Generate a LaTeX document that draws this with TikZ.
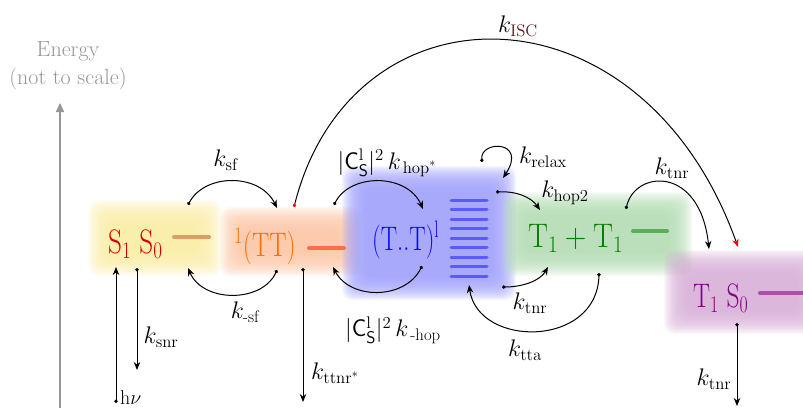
\RequirePackage{fix-cm}
\documentclass[tikz,border=0pt]{standalone}
\usepackage{amsmath}
\usepackage{graphicx}
\usetikzlibrary{arrows.meta}
\definecolor{egray}{RGB}{150,150,150}
\definecolor{sred}{RGB}{210,0,0}
\definecolor{torange}{RGB}{255,110,0}
\definecolor{tblue}{RGB}{10,10,245}
\definecolor{tgreen}{RGB}{0,128,0}
\definecolor{tpurple}{RGB}{128,0,128}
\definecolor{gyellow}{RGB}{250,236,165}
\definecolor{gorange}{RGB}{252,198,165}
\definecolor{gblue}{RGB}{160,160,252}
\definecolor{ggreen}{RGB}{180,220,180}
\definecolor{gpurple}{RGB}{216,176,216}
\definecolor{ltan}{RGB}{215,160,100}
\definecolor{lorange}{RGB}{255,110,70}
\definecolor{lblue}{RGB}{90,90,255}
\definecolor{lgreen}{RGB}{90,175,90}
\definecolor{lpurple}{RGB}{170,80,170}
\definecolor{iscred}{RGB}{100,20,20}
\newcommand\glowbox[5]{%
  \foreach \i in {0,...,21}{%
    \fill[#1, opacity=0.1, rounded corners=10pt] (#2+\i*1.1, #3+\i*1.1) rectangle (#4-\i*1.1, #5-\i*1.1);
  }}
\tikzset{
  conn/.style={line width=1pt, {Circle[length=3.4pt]}-{Stealth[length=8pt,width=6.5pt]}},
  lbl/.style={font=\fontsize{24}{28}\selectfont, inner sep=0pt},
  statetxt/.style={inner sep=0pt, anchor=base west},
  lev/.style={line width=4pt, line cap=round},
}
\newcommand\stfont{\fontsize{34}{40}\selectfont}
\begin{document}
\begin{tikzpicture}[x=1pt,y=-1pt]
\useasboundingbox (0,0) rectangle (803,408);
% glows
\glowbox{gyellow}{88}{200}{222}{276}
\glowbox{gorange}{220}{207}{362}{276}
\glowbox{gblue}{342}{166}{516}{300}
\glowbox{ggreen}{502}{192}{692}{276}
\glowbox{gpurple}{664}{250}{821}{334}
% energy axis
\node[align=center, text=egray, font=\fontsize{22}{28}\selectfont, inner sep=0pt] (energy) at (68,66) {Energy\\(not to scale)};
\coordinate (eb) at (60,408);
\coordinate (et) at (60,103);
\draw[egray, line width=1.6pt, -{Triangle[length=9pt,width=8pt]}] (eb) -- (et);
% states
\node[statetxt, text=sred] (s1s0) at (108,253) {\scalebox{0.8}[1]{\stfont S$_1$ S$_0$}};
\coordinate (l1a) at (174,237); \coordinate (l1b) at (209,237);
\draw[lev, ltan] (l1a) -- (l1b);
\node[statetxt, text=torange] (tt) at (234,256) {\scalebox{0.76}[1]{\stfont $^1$(TT)}};
\coordinate (l2a) at (309,248); \coordinate (l2b) at (344,248);
\draw[lev, lorange] (l2a) -- (l2b);
\node[statetxt, text=tblue] (tdt) at (372,250) {\scalebox{0.72}[1]{\stfont (T..T)$^{\mathrm{l}}$}};
\foreach \j in {0,...,8}{
  \coordinate (ba\j) at (451,200+\j*9.5); \coordinate (bb\j) at (487,200+\j*9.5);
  \draw[lblue, line width=3pt, line cap=round] (ba\j) -- (bb\j);
}
\node[statetxt, text=tgreen] (t1t1) at (528,247) {\scalebox{0.88}[1]{\stfont $\mathrm{T}_1+\mathrm{T}_1$}};
\coordinate (l3a) at (633,231); \coordinate (l3b) at (667,231);
\draw[lev, lgreen] (l3a) -- (l3b);
\node[statetxt, text=tpurple] (t1s0) at (693,307) {\scalebox{0.75}[1]{\stfont T$_1$ S$_0$}};
\coordinate (l4a) at (760,293); \coordinate (l4b) at (806,293);
\draw[lev, lpurple] (l4a) -- (l4b);
% connector end points
\coordinate (hvA) at (116,403); \coordinate (hvB) at (116,267);
\coordinate (snrA) at (137,268); \coordinate (snrB) at (137,370);
\coordinate (sfA) at (188,205); \coordinate (sfB) at (277,208);
\coordinate (msfA) at (277,270); \coordinate (msfB) at (188,268);
\coordinate (ttA) at (303,268); \coordinate (ttB) at (303,402);
\coordinate (iscA) at (294,207); \coordinate (iscB) at (738,247);
\coordinate (hopA) at (334,205); \coordinate (hopB) at (423,209);
\coordinate (mhopA) at (422,266); \coordinate (mhopB) at (333,267);
\coordinate (rxA) at (482,162); \coordinate (rxB) at (503,178);
\coordinate (h2A) at (496,192); \coordinate (h2B) at (540,210);
\coordinate (t1A) at (502,287); \coordinate (t1B) at (548,267);
\coordinate (ttaA) at (599,273); \coordinate (ttaB) at (469,285);
\coordinate (t2A) at (626,209); \coordinate (t2B) at (709,249);
\coordinate (t3A) at (737,323); \coordinate (t3B) at (737,406);
% connectors
\draw[conn] (hvA) -- (hvB);
\draw[conn] (snrA) -- (snrB);
\draw[conn] (sfA) .. controls (205,173) and (260,173) .. (sfB);
\draw[conn] (msfA) .. controls (262,303) and (203,303) .. (msfB);
\draw[conn] (ttA) -- (ttB);
\draw[line width=1pt, {Circle[length=3.4pt,color=red]}-{Stealth[length=8pt,width=6.5pt,color=red]}] (iscA) .. controls (352,-22) and (642,-22) .. (iscB);
\draw[conn] (hopA) .. controls (350,173) and (407,173) .. (hopB);
\draw[conn] (mhopA) .. controls (405,300) and (350,300) .. (mhopB);
\draw[conn] (rxA) .. controls (480,140) and (528,140) .. (rxB);
\draw[conn] (h2A) .. controls (516,191) and (531,197) .. (h2B);
\draw[conn] (t1A) .. controls (522,287) and (540,281) .. (t1B);
\draw[conn] (ttaA) .. controls (597,348) and (478,348) .. (ttaB);
\draw[conn] (t2A) .. controls (635,170) and (700,165) .. (t2B);
\draw[conn] (t3A) -- (t3B);
% labels
\node[lbl] (lsf) at (226,160) {$k_{\mathrm{sf}}$};
\node[lbl] (lmsf) at (245,312) {$k_{\text{-sf}}$};
\node[lbl] (lsnr) at (161,337) {$k_{\mathrm{snr}}$};
\node[lbl] (lttnr) at (335,373) {$k_{\mathrm{ttnr}^*}$};
\node[inner sep=0pt, anchor=base west, font=\fontsize{20}{24}\selectfont] (lhv) at (120,404) {h$\nu$};
\node[lbl] (lhop) at (387,163) {$|\mathsf{C}^{\mathrm{l}}_{\mathsf{S}}|^2\,k_{\,\mathrm{hop}^*}$};
\node[lbl] (lmhop) at (393,330) {$|\mathsf{C}^{\mathrm{l}}_{\mathsf{S}}|^2\,k_{\,\text{-hop}}$};
\node[lbl] (lrx) at (543,157) {$k_{\mathrm{relax}}$};
\node[lbl] (lh2) at (565,193) {$k_{\mathrm{hop2}}$};
\node[lbl] (lt1) at (530,303) {$k_{\mathrm{tnr}}$};
\node[lbl] (ltta) at (525,350) {$k_{\mathrm{tta}}$};
\node[lbl] (lt2) at (672,168) {$k_{\mathrm{tnr}}$};
\node[lbl] (lt3) at (714,379) {$k_{\mathrm{tnr}}$};
\node[lbl] (lisc) at (518,26) {$k_{\textcolor{iscred}{\mathrm{ISC}}}$};
\end{tikzpicture}
\end{document}
